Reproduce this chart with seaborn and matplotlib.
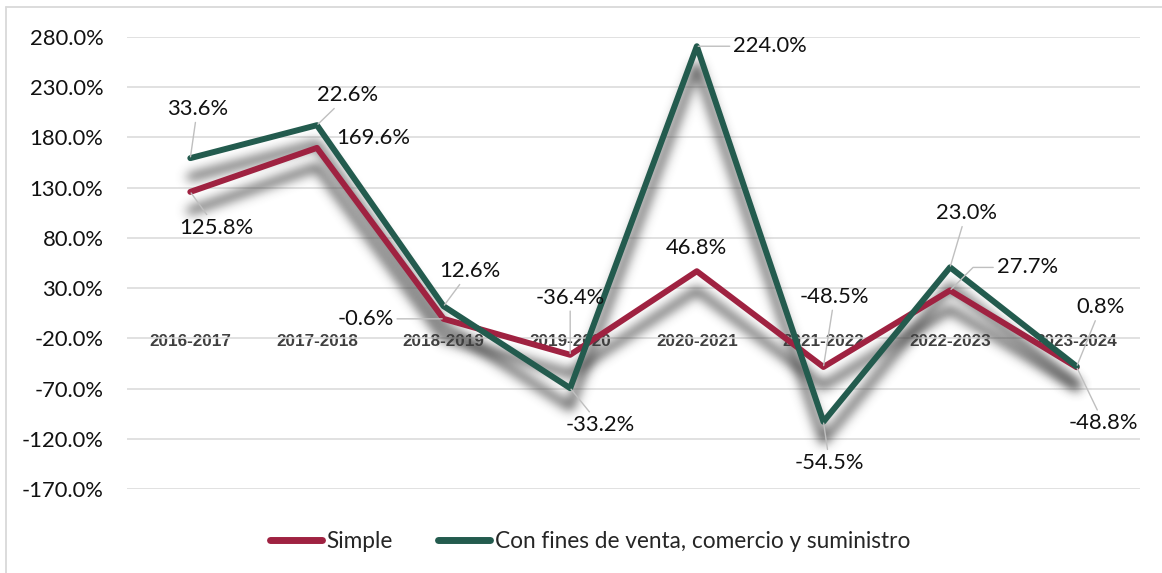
import numpy as np
import pandas as pd
import matplotlib
matplotlib.use("Agg")
import matplotlib.pyplot as plt
import seaborn as sns
from matplotlib.lines import Line2D

# --- data -------------------------------------------------------------------
periodos = ["2016-2017", "2017-2018", "2018-2019", "2019-2020",
            "2020-2021", "2021-2022", "2022-2023", "2023-2024"]
simple = [125.8, 169.6, -0.6, -36.4, 46.8, -48.5, 27.7, -48.8]
con_fines = [33.6, 22.6, 12.6, -33.2, 224.0, -54.5, 23.0, 0.8]
series = ["Simple", "Con fines de venta, comercio y suministro"]
y_ticks = list(range(-170, 281, 50))

# --- style ------------------------------------------------------------------
colores = {series[0]: "#9F2241", series[1]: "#235B4E"}
W, H = 1162, 573
sns.set_theme(style="white")
plt.rcParams["font.family"] = ["Lato", "DejaVu Sans"]
TXT = 15.8


def gauss_blur(a, sigma):
    r = int(np.ceil(3 * sigma))
    k = np.exp(-0.5 * (np.arange(-r, r + 1) / sigma) ** 2)
    k /= k.sum()
    h, w = a.shape
    p = np.pad(a, r)
    tmp = sum(k[i] * p[:, i:i + w] for i in range(2 * r + 1))
    return sum(k[i] * tmp[i:i + h, :] for i in range(2 * r + 1))


class SoftShadow:
    """Agg filter: blurred grey copy of the artist, shifted downwards."""

    def __init__(self, sigma=5.5, dy=19, alpha=1.0, grey=0.25):
        self.sigma, self.dy, self.alpha, self.grey = sigma, dy, alpha, grey

    def __call__(self, im, dpi):
        pad = int(np.ceil(3 * self.sigma)) + self.dy
        src = np.pad(im, [(pad, pad), (pad, pad), (0, 0)])
        a = gauss_blur(src[..., 3] * self.alpha, self.sigma)
        a = np.roll(a, self.dy, axis=0)
        out = np.empty_like(src)
        out[..., :3] = self.grey
        out[..., 3] = np.clip(a, 0, 1)
        return out, -pad, -pad


fig = plt.figure(figsize=(W / 100, H / 100), dpi=100)
ax = fig.add_axes([127 / W, 1 - 489 / H, (1140 - 127) / W, (489 - 37) / H])

# the second series is stacked on top of the first one
x = np.arange(len(periodos))
apilado = np.array(simple) + np.array(con_fines)
df = pd.DataFrame({
    "pos": np.concatenate([x, x]),
    "valor": np.concatenate([simple, apilado]),
    "serie": [series[0]] * len(x) + [series[1]] * len(x),
})

sns.lineplot(data=df, x="pos", y="valor", hue="serie", hue_order=series,
             palette=colores, linewidth=4.3, legend=False, ax=ax, zorder=3)
for ln in ax.get_lines():
    ln.set_solid_capstyle("round")
    ln.set_solid_joinstyle("round")

# drop shadows under both lines
for vals in (simple, apilado):
    sh, = ax.plot(x, vals, color="black", lw=4.8, zorder=1.2,
                  solid_capstyle="round", solid_joinstyle="round")
    sh.set_agg_filter(SoftShadow())

# --- axes -------------------------------------------------------------------
# category axis crosses the value axis at 0 (moving the spine rebuilds ticks,
# so do it before styling the tick labels)
ax.spines["bottom"].set_position(("data", 0))
sns.despine(ax=ax, left=True, bottom=True)
ax.set_xlim(-0.5, len(periodos) - 0.5)
ax.set_ylim(-170, 280)
ax.set_yticks(y_ticks, [f"{v:.1f}%" for v in y_ticks])
ax.set_xticks(x, periodos)
ax.set_xlabel("")
ax.set_ylabel("")
ax.grid(axis="y", color="#d9d9d9", lw=1.1)
ax.tick_params(axis="y", length=0, pad=17, labelsize=TXT, labelcolor="#111111")
ax.tick_params(axis="x", length=0, pad=11, labelsize=12.3, labelcolor="#404040")
for t in ax.get_xticklabels():
    t.set_fontfamily(["Liberation Sans", "DejaVu Sans"])
    t.set_fontweight("bold")

# --- data labels (offsets in pixels: right, down) ---------------------------
off_simple = [(26, 36), (56, -10), (-78, 0), (0, -57),
              (0, -23), (11, -70), (77, -23), (27, 56)]
lead_simple = [True, False, True, True, False, True, True, True]
off_fines = [(7, -49), (31, -30), (26, -35), (30, 37),
             (73, 0), (6, 41), (16, -54), (24, -59)]
lead_fines = [True, True, True, True, True, True, True, True]


def label(xi, yi, value, off, lead, conn="arc3"):
    props = dict(arrowstyle="-", color="#bfbfbf", lw=1.0, shrinkA=0,
                 shrinkB=1, connectionstyle=conn) if lead else None
    ax.annotate(f"{value:.1f}%", xy=(xi, yi), xytext=(off[0], -off[1]),
                textcoords="offset pixels", ha="center", va="center",
                fontsize=TXT, color="#111111", arrowprops=props, zorder=6)


for i in range(len(x)):
    conn = "angle,angleA=0,angleB=45,rad=0" if i == 6 else "arc3"
    label(x[i], simple[i], simple[i], off_simple[i], lead_simple[i], conn)
    label(x[i], apilado[i], con_fines[i], off_fines[i], lead_fines[i])

# --- legend -------------------------------------------------------------------
handles = [Line2D([], [], color=colores[s], lw=5, solid_capstyle="round")
           for s in series]
fig.legend(handles, series, loc="center", bbox_to_anchor=(590 / W, 1 - 541 / H),
           ncol=2, frameon=False, fontsize=16.3, handlelength=2.3,
           handletextpad=0.2, columnspacing=2.0)

# chart frame
fig.add_artist(Line2D([6 / W, 1], [1 - 7 / H] * 2, transform=fig.transFigure,
                      color="#d9d9d9", lw=1.3))
fig.add_artist(Line2D([6 / W] * 2, [0, 1 - 7 / H], transform=fig.transFigure,
                      color="#d9d9d9", lw=1.3))

fig.savefig("out.png", dpi=100, facecolor="white")
